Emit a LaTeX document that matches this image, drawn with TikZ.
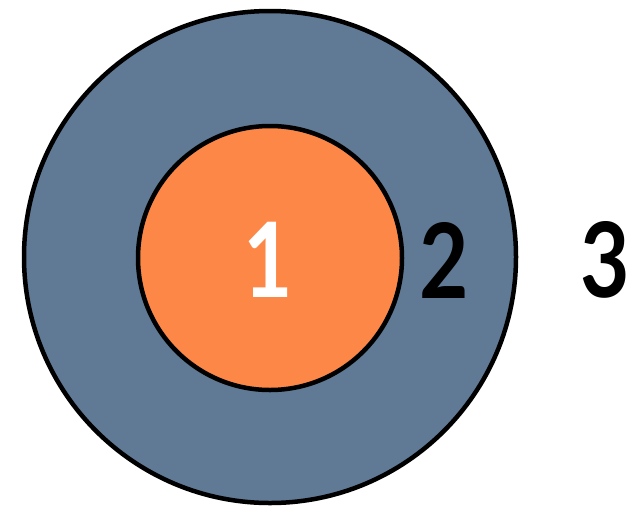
\documentclass[tikz,border=0pt]{standalone}
\usepackage{fontspec}
\setmainfont{Lato}
\usetikzlibrary{positioning}

\begin{document}
\begin{tikzpicture}[x=1pt, y=-1pt]
    % Colours of the two zones
    \definecolor{ringblue}{RGB}{96, 122, 150}
    \definecolor{coreorange}{RGB}{253, 135, 70}

    \tikzset{
        zone/.style={circle, draw=black, line width=4.5pt, inner sep=0pt},
        digit/.style={inner sep=0pt, xscale=0.82, transform shape,
                      font=\fontsize{104}{104}\selectfont\bfseries}
    }

    \useasboundingbox (0,0) rectangle (629,507);

    % 1. Outer zone and inner zone
    \node[zone, fill=ringblue, minimum size=492pt] (outer) at (270,257) {};
    \node[zone, fill=coreorange, minimum size=264pt] (inner) at (270,258) {};

    % 2. Zone numbers
    \node[digit, text=white] (one) at (268,260) {1};
    \node[digit] (two) at (444,260) {2};
    \node[digit] (three) at (605,260) {3};
\end{tikzpicture}
\end{document}
